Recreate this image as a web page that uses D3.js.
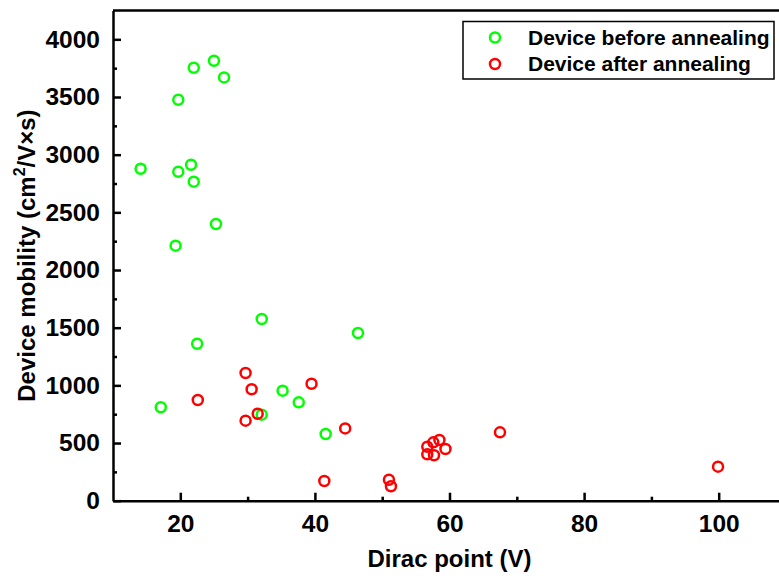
<!DOCTYPE html>
<html>
<head>
<meta charset="utf-8">
<script src="https://cdn.jsdelivr.net/npm/d3@7"></script>
<style>
  html, body { margin: 0; padding: 0; background: #fff; }
  svg { display: block; }
  text { font-family: "Liberation Sans", Arial, sans-serif; font-weight: bold; fill: #000; }
</style>
</head>
<body>
<svg id="chart" width="779" height="583"></svg>
<script>
// Data: Dirac point (V) and device mobility (cm^2/V·s)
const beforeX = [25.0, 22.0, 26.5, 19.7, 14.1, 19.7, 21.6, 22.0, 25.3, 19.3, 32.1, 46.4, 22.5, 17.1, 35.2, 37.6, 32.1, 41.6];
const beforeY = [3814, 3754, 3670, 3476, 2878, 2852, 2913, 2766, 2399, 2211, 1575, 1454, 1361, 810, 954, 853, 746, 578];
const afterX = [29.7, 30.6, 39.5, 22.6, 31.5, 29.7, 44.5, 41.4, 51.0, 51.3, 56.7, 57.6, 58.5, 59.4, 56.7, 57.7, 67.5, 99.9];
const afterY = [1107, 966, 1014, 873, 754, 694, 627, 171, 182, 125, 468, 506, 526, 448, 402, 394, 593, 295];
const seriesNames = ["Device before annealing", "Device after annealing"];
const seriesColors = ["#00ff00", "#ff0000"];
const xMajorTicks = [20, 40, 60, 80, 100];
const xMinorTicks = [30, 50, 70, 90];
const yMajorTicks = [0, 500, 1000, 1500, 2000, 2500, 3000, 3500, 4000];
const yMinorTicks = [250, 750, 1250, 1750, 2250, 2750, 3250, 3750];
const xDomain = [10, 110];
const yDomain = [0, 4250];

(function () {
const svg = d3.select("#chart");
const mL = 113, mR = 786, mT = 10.5, mB = 500.7;

const x = d3.scaleLinear().domain(xDomain).range([mL, mR]);
const y = d3.scaleLinear().domain(yDomain).range([mB, mT]);

// Frame (top and right)
svg.append("path")
  .attr("d", `M${mL},${mT}H${mR}V${mB}`)
  .attr("fill", "none").attr("stroke", "#000").attr("stroke-width", 2.5);

// Minor ticks
svg.append("g").attr("transform", `translate(0,${mB})`)
  .call(d3.axisBottom(x).tickValues(xMinorTicks).tickSize(-4).tickSizeOuter(0).tickFormat(""))
  .call(g => g.select(".domain").remove())
  .call(g => g.selectAll("line").attr("stroke-width", 2.5));
svg.append("g").attr("transform", `translate(${mL},0)`)
  .call(d3.axisLeft(y).tickValues(yMinorTicks).tickSize(-4).tickSizeOuter(0).tickFormat(""))
  .call(g => g.select(".domain").remove())
  .call(g => g.selectAll("line").attr("stroke-width", 2.5));

// Major axes
const xAxis = svg.append("g").attr("transform", `translate(0,${mB})`)
  .call(d3.axisBottom(x).tickValues(xMajorTicks).tickSize(-8).tickSizeOuter(0).tickPadding(14).tickFormat(d3.format("d")));
const yAxis = svg.append("g").attr("transform", `translate(${mL},0)`)
  .call(d3.axisLeft(y).tickValues(yMajorTicks).tickSize(-8).tickSizeOuter(0).tickPadding(13).tickFormat(d3.format("d")));
[xAxis, yAxis].forEach(g => {
  g.select(".domain").attr("stroke-width", 2.5);
  g.selectAll("line").attr("stroke-width", 2.5);
  g.selectAll("text").attr("font-size", 24.5).attr("fill", "#000");
  g.attr("font-family", null).attr("font-size", null);
});

// Axis titles
svg.append("text")
  .attr("x", (mL + mR) / 2).attr("y", 567)
  .attr("text-anchor", "middle").attr("font-size", 24)
  .text("Dirac point (V)");

const yt = svg.append("text")
  .attr("transform", `translate(35,${(mT + mB) / 2}) rotate(-90)`)
  .attr("text-anchor", "middle").attr("font-size", 24);
yt.append("tspan").text("Device mobility (cm");
yt.append("tspan").attr("font-size", 16).attr("dy", -10).text("2");
yt.append("tspan").attr("dy", 10).text("/V×s)");

// Points
const series = [
  { xs: beforeX, ys: beforeY, color: seriesColors[0] },
  { xs: afterX, ys: afterY, color: seriesColors[1] }
];
series.forEach(s => {
  svg.append("g").selectAll("circle")
    .data(s.xs.map((v, i) => [v, s.ys[i]]))
    .join("circle")
    .attr("cx", d => x(d[0])).attr("cy", d => y(d[1]))
    .attr("r", 5).attr("fill", "none")
    .attr("stroke", s.color).attr("stroke-width", 2.5);
});

// Legend
const lg = svg.append("g");
lg.append("rect").attr("x", 463).attr("y", 21.5).attr("width", 311).attr("height", 57.5)
  .attr("fill", "#fff").attr("stroke", "#000").attr("stroke-width", 1.5);
seriesNames.forEach((name, i) => {
  const cy = 37.5 + i * 26.5;
  lg.append("circle").attr("cx", 495).attr("cy", cy).attr("r", 5)
    .attr("fill", "none").attr("stroke", seriesColors[i]).attr("stroke-width", 2.5);
  lg.append("text").attr("x", 528).attr("y", cy + 7).attr("font-size", 21).text(name);
});
})();
</script>
</body>
</html>
